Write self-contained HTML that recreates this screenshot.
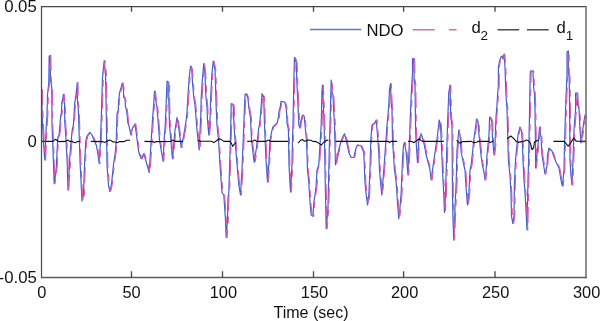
<!DOCTYPE html>
<html><head><meta charset="utf-8"><style>
html,body{margin:0;padding:0;background:#fff;width:600px;height:321px;overflow:hidden}
svg{display:block;filter:blur(0.35px)}
text{font-family:"Liberation Sans",sans-serif;fill:#111}
</style></head><body>
<svg width="600" height="321" viewBox="0 0 600 321">
<polyline points="41.6,89.0 41.9,108.0 42.6,125.0 43.5,142.5 44.8,160.0 46.2,127.5 47.0,115.0 47.5,95.0 48.8,82.5 49.2,56.3 50.0,55.5 50.5,80.0 51.8,87.5 52.0,125.0 53.0,150.0 54.2,183.7 55.5,175.0 56.5,165.0 57.1,150.0 57.8,137.5 59.0,135.0 59.6,130.0 60.2,121.0 60.9,115.0 61.5,112.5 61.8,102.5 62.5,100.0 63.4,94.4 64.0,101.0 64.6,103.8 64.8,122.5 65.9,137.5 66.5,150.0 67.1,160.0 68.0,190.0 69.5,165.0 69.6,160.0 70.9,143.8 71.5,137.5 72.1,131.0 73.4,125.0 74.0,116.0 74.6,103.8 75.2,100.0 75.9,95.0 76.8,88.0 77.2,82.5 77.5,102.5 78.0,106.0 78.4,111.0 79.0,130.0 80.2,165.0 82.0,201.0 83.5,195.0 84.5,165.0 85.8,141.0 87.0,136.0 88.5,134.0 90.0,132.4 92.0,135.0 94.0,140.0 96.4,145.6 97.6,152.0 99.2,163.7 100.5,140.0 101.2,120.0 102.5,77.5 104.2,60.5 105.5,73.7 106.2,107.5 107.0,165.0 108.5,185.0 109.9,191.5 111.6,183.6 112.8,171.4 113.7,162.7 114.6,157.5 115.5,150.5 116.3,140.0 116.5,132.5 117.0,113.8 118.4,110.0 118.5,101.0 119.0,98.0 119.5,93.0 121.0,88.0 122.3,83.0 123.5,90.0 123.6,97.0 125.0,99.0 125.5,107.0 126.5,110.0 127.2,116.0 127.8,122.5 129.0,126.0 130.9,135.0 132.5,128.0 135.0,124.0 136.5,135.0 138.8,152.5 141.2,158.7 143.8,153.7 146.5,163.0 149.2,172.5 151.2,140.0 152.5,120.0 153.8,102.5 154.5,91.2 155.5,98.7 157.0,107.5 158.0,120.0 159.5,140.0 163.0,161.2 164.2,140.0 165.5,120.0 166.2,102.5 167.0,81.2 168.8,82.5 168.8,100.0 169.5,125.0 172.5,158.7 175.0,130.0 177.0,117.5 179.0,130.0 181.2,147.5 183.8,135.0 186.2,120.0 187.0,112.5 188.0,95.0 189.2,77.5 190.5,66.2 191.8,70.0 192.5,82.5 193.8,97.5 195.0,105.0 196.2,120.0 197.0,130.0 199.2,150.0 200.2,127.5 200.8,115.0 201.2,97.5 202.5,77.5 203.8,63.7 205.0,75.0 205.8,95.0 207.0,107.5 207.5,120.0 208.8,135.0 210.0,120.0 210.8,95.0 212.0,72.5 213.2,61.2 215.0,70.0 215.5,85.0 216.2,107.5 217.0,125.0 218.5,140.0 220.0,165.0 222.0,192.5 223.8,195.0 224.5,205.0 225.5,220.0 226.2,237.5 227.5,220.0 228.0,197.5 228.8,192.5 229.5,170.0 230.8,125.0 231.2,103.7 233.2,105.0 234.0,125.0 235.0,140.0 237.5,170.0 238.8,185.0 240.5,195.0 241.2,182.5 242.0,170.0 243.8,125.0 245.0,95.0 246.2,93.7 248.0,98.7 248.8,107.5 250.5,117.5 251.5,140.0 254.2,162.5 256.5,147.5 258.8,127.5 259.5,125.0 260.5,115.0 262.0,93.7 263.8,97.5 264.5,125.0 266.0,160.0 267.5,182.0 268.8,165.0 270.0,140.0 271.6,132.0 272.9,127.0 275.0,125.0 277.2,123.0 278.5,117.0 279.1,110.7 280.3,107.0 281.0,101.4 284.7,102.0 286.0,107.0 286.6,113.0 287.0,123.0 288.4,129.4 289.0,165.0 290.5,192.0 292.0,165.0 292.5,140.0 293.0,125.0 293.8,82.5 294.5,57.5 296.2,62.5 297.0,85.0 298.0,105.0 298.8,125.0 300.0,128.0 300.5,122.5 302.5,115.0 304.2,116.2 305.0,125.0 306.5,140.0 307.5,170.0 308.8,182.5 310.0,202.5 311.2,215.0 313.0,216.2 313.8,202.5 315.0,195.0 316.2,185.0 317.0,170.0 318.8,165.0 321.2,125.0 322.0,90.0 322.5,85.0 323.8,115.0 324.5,140.0 325.0,170.0 325.5,195.0 326.2,228.7 328.0,207.5 328.8,170.0 329.5,140.0 330.0,125.0 330.8,95.0 331.2,80.0 332.0,92.5 333.0,95.0 333.8,112.5 334.5,125.0 335.5,165.0 337.5,155.0 340.0,145.0 342.5,137.5 344.5,133.7 346.2,140.0 348.8,152.5 351.2,157.5 353.8,157.5 356.2,147.5 357.5,145.0 361.2,146.2 363.8,152.5 365.0,182.5 366.2,195.0 367.5,205.0 368.8,195.0 370.0,170.0 370.8,140.0 372.0,125.0 375.0,122.5 376.2,120.0 377.5,135.0 378.8,152.5 379.5,170.0 380.8,185.0 381.8,195.0 383.0,180.0 383.8,170.0 386.0,140.0 387.0,125.0 388.0,115.0 388.8,105.0 389.5,90.0 390.5,83.7 391.2,102.5 392.0,110.0 392.5,140.0 394.5,170.0 396.2,182.5 397.5,202.5 398.8,218.7 400.0,207.5 401.2,192.5 402.5,160.0 403.5,145.0 404.5,142.5 406.2,152.5 408.0,175.0 409.5,140.0 410.0,125.0 411.2,95.0 412.5,72.5 412.5,58.7 413.8,58.7 414.2,80.0 415.0,85.0 415.5,125.0 416.0,140.0 417.5,162.5 418.8,140.0 421.2,133.7 423.8,142.5 426.2,155.0 428.8,165.0 430.0,170.0 431.2,180.0 432.5,170.0 435.0,152.5 437.5,135.0 439.2,120.0 440.5,125.0 441.2,140.0 442.5,170.0 443.8,195.0 444.5,212.5 445.5,195.0 446.2,170.0 447.5,125.0 448.8,92.5 450.0,85.0 450.8,117.5 452.0,125.0 452.5,195.0 453.0,220.0 453.8,240.0 455.0,207.5 456.2,182.5 457.0,150.0 458.8,130.0 460.0,135.0 461.2,152.5 463.8,165.0 465.0,170.0 466.2,190.0 467.5,205.0 468.8,195.0 470.0,170.0 471.2,165.0 473.8,140.0 476.2,122.5 476.4,119.0 478.0,121.0 479.0,135.0 480.0,145.0 481.0,155.0 482.4,165.0 484.0,172.0 485.0,180.0 486.0,172.0 487.0,155.0 489.0,135.0 489.6,117.0 491.0,119.0 492.0,123.0 492.4,137.0 494.0,155.0 495.0,145.0 495.5,130.0 496.0,117.0 497.0,105.0 497.6,95.0 498.4,85.0 498.4,67.0 499.6,61.0 501.0,57.0 502.0,56.0 503.0,59.0 504.0,54.0 505.0,67.0 505.6,85.0 506.0,95.0 507.0,109.0 508.0,145.0 508.4,160.0 510.0,176.0 511.0,194.0 511.5,216.0 512.8,223.5 514.0,216.0 514.4,186.0 515.0,170.0 515.6,160.0 516.0,155.0 518.0,135.0 520.0,127.0 521.6,131.0 522.5,145.0 523.0,160.0 524.0,180.0 525.0,192.0 526.0,210.0 527.0,230.0 528.0,180.0 528.6,160.0 529.0,140.0 529.6,109.0 530.0,85.0 530.4,71.0 533.0,71.0 533.6,87.0 534.4,93.0 535.0,109.0 535.5,145.0 535.6,168.0 538.0,145.0 539.6,127.0 541.0,137.0 542.0,155.0 543.6,165.0 545.0,174.0 547.0,166.0 547.5,155.0 549.0,148.0 552.0,151.0 554.0,157.0 556.0,162.0 559.0,168.0 561.0,180.0 562.4,186.0 564.0,170.0 564.4,150.0 565.6,109.0 566.0,97.0 567.0,75.0 567.0,52.0 568.4,51.0 568.4,73.0 569.2,77.0 569.6,109.0 570.0,160.0 571.0,176.0 572.0,185.0 573.0,160.0 574.0,130.0 575.6,109.0 575.6,93.0 577.0,93.0 577.6,105.0 579.0,109.0 580.0,130.0 581.0,143.0 584.0,121.0 585.0,115.0 586.0,118.0" fill="none" stroke="#3d5fcc" stroke-width="1.2" stroke-linejoin="round"/>
<polyline points="42.4,89.0 42.7,108.0 43.4,125.0 44.3,142.5 45.6,160.0 47.0,127.5 47.8,115.0 48.3,95.0 49.5,82.5 50.0,56.3 50.8,55.5 51.3,80.0 52.5,87.5 52.8,125.0 53.8,150.0 55.0,183.7 56.3,175.0 57.3,165.0 57.9,150.0 58.5,137.5 59.8,135.0 60.4,130.0 61.0,121.0 61.7,115.0 62.3,112.5 62.5,102.5 63.3,100.0 64.2,94.4 64.8,101.0 65.4,103.8 65.6,122.5 66.7,137.5 67.3,150.0 67.9,160.0 68.8,190.0 70.3,165.0 70.4,160.0 71.7,143.8 72.3,137.5 72.9,131.0 74.2,125.0 74.8,116.0 75.4,103.8 76.0,100.0 76.7,95.0 77.5,88.0 78.0,82.5 78.3,102.5 78.8,106.0 79.2,111.0 79.8,130.0 81.0,165.0 82.8,201.0 84.3,195.0 85.3,165.0 86.6,141.0 87.8,136.0 89.3,134.0 90.8,132.4 92.8,135.0 94.8,140.0 97.2,145.6 98.4,152.0 100.0,163.7 101.3,140.0 102.0,120.0 103.3,77.5 105.0,60.5 106.3,73.7 107.0,107.5 107.8,165.0 109.3,185.0 110.7,191.5 112.4,183.6 113.6,171.4 114.5,162.7 115.4,157.5 116.3,150.5 117.1,140.0 117.3,132.5 117.8,113.8 119.2,110.0 119.3,101.0 119.8,98.0 120.3,93.0 121.8,88.0 123.1,83.0 124.3,90.0 124.4,97.0 125.8,99.0 126.3,107.0 127.3,110.0 128.0,116.0 128.6,122.5 129.8,126.0 131.7,135.0 133.3,128.0 135.8,124.0 137.3,135.0 139.6,152.5 142.1,158.7 144.6,153.7 147.3,163.0 150.1,172.5 152.1,140.0 153.3,120.0 154.6,102.5 155.3,91.2 156.3,98.7 157.8,107.5 158.8,120.0 160.3,140.0 163.8,161.2 165.1,140.0 166.3,120.0 167.1,102.5 167.8,81.2 169.6,82.5 169.6,100.0 170.3,125.0 173.3,158.7 175.8,130.0 177.8,117.5 179.8,130.0 182.1,147.5 184.6,135.0 187.1,120.0 187.8,112.5 188.8,95.0 190.1,77.5 191.3,66.2 192.6,70.0 193.3,82.5 194.6,97.5 195.8,105.0 197.1,120.0 197.8,130.0 200.1,150.0 201.1,127.5 201.6,115.0 202.1,97.5 203.3,77.5 204.6,63.7 205.8,75.0 206.6,95.0 207.8,107.5 208.3,120.0 209.6,135.0 210.8,120.0 211.6,95.0 212.8,72.5 214.1,61.2 215.8,70.0 216.3,85.0 217.1,107.5 217.8,125.0 219.3,140.0 220.8,165.0 222.8,192.5 224.6,195.0 225.3,205.0 226.3,220.0 227.1,237.5 228.3,220.0 228.8,197.5 229.6,192.5 230.3,170.0 231.6,125.0 232.1,103.7 234.1,105.0 234.8,125.0 235.8,140.0 238.3,170.0 239.6,185.0 241.3,195.0 242.1,182.5 242.8,170.0 244.6,125.0 245.8,95.0 247.1,93.7 248.8,98.7 249.6,107.5 251.3,117.5 252.3,140.0 255.1,162.5 257.3,147.5 259.6,127.5 260.3,125.0 261.3,115.0 262.8,93.7 264.6,97.5 265.3,125.0 266.8,160.0 268.3,182.0 269.6,165.0 270.8,140.0 272.4,132.0 273.7,127.0 275.8,125.0 278.0,123.0 279.3,117.0 279.9,110.7 281.1,107.0 281.8,101.4 285.5,102.0 286.8,107.0 287.4,113.0 287.8,123.0 289.2,129.4 289.8,165.0 291.3,192.0 292.8,165.0 293.3,140.0 293.8,125.0 294.6,82.5 295.3,57.5 297.1,62.5 297.8,85.0 298.8,105.0 299.6,125.0 300.8,128.0 301.3,122.5 303.3,115.0 305.1,116.2 305.8,125.0 307.3,140.0 308.3,170.0 309.6,182.5 310.8,202.5 312.1,215.0 313.8,216.2 314.6,202.5 315.8,195.0 317.1,185.0 317.8,170.0 319.6,165.0 322.1,125.0 322.8,90.0 323.3,85.0 324.6,115.0 325.3,140.0 325.8,170.0 326.3,195.0 327.1,228.7 328.8,207.5 329.6,170.0 330.3,140.0 330.8,125.0 331.6,95.0 332.1,80.0 332.8,92.5 333.8,95.0 334.6,112.5 335.3,125.0 336.3,165.0 338.3,155.0 340.8,145.0 343.3,137.5 345.3,133.7 347.1,140.0 349.6,152.5 352.1,157.5 354.6,157.5 357.1,147.5 358.3,145.0 362.1,146.2 364.6,152.5 365.8,182.5 367.1,195.0 368.3,205.0 369.6,195.0 370.8,170.0 371.6,140.0 372.8,125.0 375.8,122.5 377.1,120.0 378.3,135.0 379.6,152.5 380.3,170.0 381.6,185.0 382.6,195.0 383.8,180.0 384.6,170.0 386.8,140.0 387.8,125.0 388.8,115.0 389.6,105.0 390.3,90.0 391.3,83.7 392.1,102.5 392.8,110.0 393.3,140.0 395.3,170.0 397.1,182.5 398.3,202.5 399.6,218.7 400.8,207.5 402.1,192.5 403.3,160.0 404.3,145.0 405.3,142.5 407.1,152.5 408.8,175.0 410.3,140.0 410.8,125.0 412.1,95.0 413.3,72.5 413.3,58.7 414.6,58.7 415.1,80.0 415.8,85.0 416.3,125.0 416.8,140.0 418.3,162.5 419.6,140.0 422.1,133.7 424.6,142.5 427.1,155.0 429.6,165.0 430.8,170.0 432.1,180.0 433.3,170.0 435.8,152.5 438.3,135.0 440.1,120.0 441.3,125.0 442.1,140.0 443.3,170.0 444.6,195.0 445.3,212.5 446.3,195.0 447.1,170.0 448.3,125.0 449.6,92.5 450.8,85.0 451.6,117.5 452.8,125.0 453.3,195.0 453.8,220.0 454.6,240.0 455.8,207.5 457.1,182.5 457.8,150.0 459.6,130.0 460.8,135.0 462.1,152.5 464.6,165.0 465.8,170.0 467.1,190.0 468.3,205.0 469.6,195.0 470.8,170.0 472.1,165.0 474.6,140.0 477.1,122.5 477.2,119.0 478.8,121.0 479.8,135.0 480.8,145.0 481.8,155.0 483.2,165.0 484.8,172.0 485.8,180.0 486.8,172.0 487.8,155.0 489.8,135.0 490.4,117.0 491.8,119.0 492.8,123.0 493.2,137.0 494.8,155.0 495.8,145.0 496.3,130.0 496.8,117.0 497.8,105.0 498.4,95.0 499.2,85.0 499.2,67.0 500.4,61.0 501.8,57.0 502.8,56.0 503.8,59.0 504.8,54.0 505.8,67.0 506.4,85.0 506.8,95.0 507.8,109.0 508.8,145.0 509.2,160.0 510.8,176.0 511.8,194.0 512.3,216.0 513.6,223.5 514.8,216.0 515.2,186.0 515.8,170.0 516.4,160.0 516.8,155.0 518.8,135.0 520.8,127.0 522.4,131.0 523.3,145.0 523.8,160.0 524.8,180.0 525.8,192.0 526.8,210.0 527.8,230.0 528.8,180.0 529.4,160.0 529.8,140.0 530.4,109.0 530.8,85.0 531.2,71.0 533.8,71.0 534.4,87.0 535.2,93.0 535.8,109.0 536.3,145.0 536.4,168.0 538.8,145.0 540.4,127.0 541.8,137.0 542.8,155.0 544.4,165.0 545.8,174.0 547.8,166.0 548.3,155.0 549.8,148.0 552.8,151.0 554.8,157.0 556.8,162.0 559.8,168.0 561.8,180.0 563.2,186.0 564.8,170.0 565.2,150.0 566.4,109.0 566.8,97.0 567.8,75.0 567.8,52.0 569.2,51.0 569.2,73.0 570.0,77.0 570.4,109.0 570.8,160.0 571.8,176.0 572.8,185.0 573.8,160.0 574.8,130.0 576.4,109.0 576.4,93.0 577.8,93.0 578.4,105.0 579.8,109.0 580.8,130.0 581.8,143.0 584.8,121.0 585.8,115.0 586.8,118.0" fill="none" stroke="#d856b6" stroke-width="1.15" stroke-dasharray="16 6 7 6" stroke-linejoin="round"/>
<polyline points="41.5,141.4 53.2,141.4 55.6,139.2 57.6,140.8 58.8,141.6 65.6,141.4 67.6,140.0 69.6,141.4 71.6,141.3 73.2,142.0 75.2,142.8 77.2,141.6 80.0,141.2" fill="none" stroke="#111" stroke-width="1.1" stroke-linejoin="round"/>
<polyline points="90.8,141.4 102.8,141.6 104.4,142.6 106.8,141.2 110.0,140.0 112.4,141.6 114.8,142.0 117.2,142.8 119.6,141.6 124.4,141.6 126.4,140.2 130.0,140.2" fill="none" stroke="#111" stroke-width="1.1" stroke-linejoin="round"/>
<polyline points="144.4,141.4 153.2,141.6 154.4,142.6 155.6,141.6 171.2,141.4 172.0,140.2 174.0,140.2 174.8,141.4 183.2,141.4" fill="none" stroke="#111" stroke-width="1.1" stroke-linejoin="round"/>
<polyline points="197.8,140.0 199.8,141.2 211.8,141.2 213.8,142.6 215.8,141.2 219.0,138.8 221.4,139.6 223.8,141.4 230.2,141.4 231.4,143.2 232.6,146.4 234.2,144.4 236.2,142.0" fill="none" stroke="#111" stroke-width="1.1" stroke-linejoin="round"/>
<polyline points="247.2,141.4 252.8,141.3 254.0,140.0 255.2,140.2 256.4,141.4 266.4,141.4 267.6,140.2 269.2,140.2 270.4,141.4 288.0,141.4" fill="none" stroke="#111" stroke-width="1.1" stroke-linejoin="round"/>
<polyline points="298.0,143.2 300.8,140.0 302.4,139.6 304.8,141.2 308.0,140.0 310.8,140.2 312.8,141.4 316.0,141.6 318.8,143.2 321.2,145.2 324.0,142.0 327.2,140.0 328.4,140.4" fill="none" stroke="#111" stroke-width="1.1" stroke-linejoin="round"/>
<polyline points="335.6,141.4 388.4,141.4 389.6,142.6 390.8,141.4 397.2,141.4" fill="none" stroke="#111" stroke-width="1.1" stroke-linejoin="round"/>
<polyline points="408.0,141.4 411.6,141.5 413.6,142.6 416.0,141.2 418.8,138.8 420.8,140.4 422.4,141.4 443.8,141.4" fill="none" stroke="#111" stroke-width="1.1" stroke-linejoin="round"/>
<polyline points="456.6,140.4 458.4,141.8 460.2,143.4 462.2,141.6 471.4,141.4 473.4,142.6 476.6,142.2 478.2,141.2 488.6,141.4 490.2,142.6 491.8,141.6 493.5,141.2" fill="none" stroke="#111" stroke-width="1.1" stroke-linejoin="round"/>
<polyline points="507.2,138.8 510.8,136.0 513.6,138.4 516.0,141.2 518.4,142.4 521.6,141.6 524.0,141.2 526.4,140.0 528.4,140.8 530.4,143.2 532.0,149.6 533.6,148.0 534.4,142.0 535.6,141.2 537.6,140.4 538.8,140.0" fill="none" stroke="#111" stroke-width="1.1" stroke-linejoin="round"/>
<polyline points="553.4,141.4 564.2,141.4 568.2,146.2 571.4,141.6 573.8,138.0 576.2,141.2 586.0,141.4" fill="none" stroke="#111" stroke-width="1.1" stroke-linejoin="round"/>
<path d="M41,6.5 H586.5" stroke="#474747" stroke-width="1.25" fill="none"/>
<path d="M41.5,6 V278.3" stroke="#4d4d4d" stroke-width="1.25" fill="none"/>
<path d="M586,6 V278.3" stroke="#7a7a7a" stroke-width="1.7" fill="none"/>
<path d="M41,277.6 H586.8" stroke="#5c5c5c" stroke-width="1.5" fill="none"/>
<path d="M131.5,6.5 v5.2 M131.5,277.6 v-6.3 M222.5,6.5 v5.2 M222.5,277.6 v-6.3 M313.5,6.5 v5.2 M313.5,277.6 v-6.3 M403.6,6.5 v5.2 M403.6,277.6 v-6.3 M495.0,6.5 v5.2 M495.0,277.6 v-6.3 M41.5,141.5 h5 M586,141.5 h-5" stroke="#444" stroke-width="1.3" fill="none"/>
<line x1="310" y1="29.6" x2="361.3" y2="29.6" stroke="#6278c4" stroke-width="1.5"/>
<path d="M412.5,29.7 H434.8 M448.8,29.7 H456.5" stroke="#cc72b8" stroke-width="1.5"/>
<path d="M497.5,29.7 H519.2 M527,29.7 H548.7" stroke="#4a4a4a" stroke-width="1.5"/>
<text x="41.9" y="297.6" text-anchor="middle" font-size="16.4" >0</text>
<text x="131.5" y="297.6" text-anchor="middle" font-size="16.4" >50</text>
<text x="223.4" y="297.6" text-anchor="middle" font-size="16.4" >100</text>
<text x="314.5" y="297.6" text-anchor="middle" font-size="16.4" >150</text>
<text x="404.6" y="297.6" text-anchor="middle" font-size="16.4" >200</text>
<text x="495.6" y="297.6" text-anchor="middle" font-size="16.4" >250</text>
<text x="586.6" y="297.6" text-anchor="middle" font-size="16.4" >300</text>
<text x="36.8" y="11.6" text-anchor="end" font-size="16.8" >0.05</text>
<text x="36.8" y="146.9" text-anchor="end" font-size="16.8" >0</text>
<text x="36.8" y="283.0" text-anchor="end" font-size="16.8" >-0.05</text>
<text x="311" y="317.5" text-anchor="middle" font-size="16" >Time (sec)</text>
<text x="366.4" y="35.9" text-anchor="start" font-size="16.7" >NDO</text>
<text x="471.5" y="32.5" text-anchor="start" font-size="16.7" >d</text>
<text x="480.5" y="40" text-anchor="start" font-size="13.5" >2</text>
<text x="556.6" y="32.5" text-anchor="start" font-size="16.7" >d</text>
<text x="565.8" y="40" text-anchor="start" font-size="13.5" >1</text>
</svg>
</body></html>
